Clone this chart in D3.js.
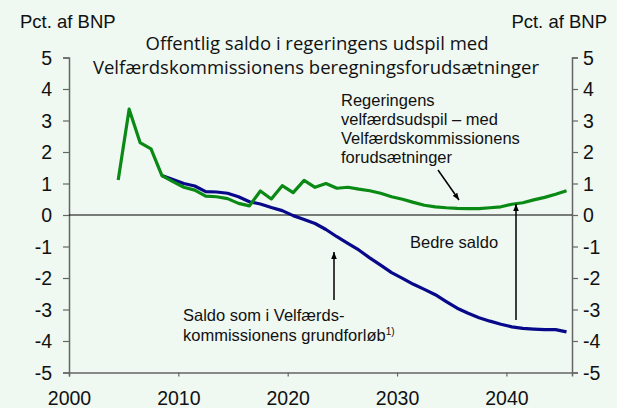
<!DOCTYPE html>
<html>
<head>
<meta charset="utf-8">
<script src="https://cdn.jsdelivr.net/npm/d3@7"></script>
<style>
  body { margin: 0; background: #eff8f1; }
  svg { display: block; }
</style>
</head>
<body>
<div id="vis"></div>
<script>
const [width, height] = [617, 408];
const sans = '"Liberation Sans", Arial, Helvetica, sans-serif';

// Regeringens udspil (green), 2004-2045
const govYears = d3.range(2004, 2046);
const govSaldo = [1.11, 3.36, 2.30, 2.10, 1.25, 1.06, 0.88, 0.79, 0.60, 0.58,
  0.52, 0.37, 0.29, 0.76, 0.51, 0.93, 0.71, 1.10, 0.88, 1.00,
  0.85, 0.88, 0.82, 0.77, 0.69, 0.58, 0.50, 0.40, 0.31, 0.26,
  0.23, 0.21, 0.20, 0.20, 0.23, 0.26, 0.34, 0.39, 0.48, 0.56,
  0.66, 0.77];
// Velfærdskommissionens grundforløb (blue), 2008-2045
const baseYears = d3.range(2008, 2046);
const baseSaldo = [1.25, 1.13, 1.00, 0.92, 0.74, 0.73, 0.69, 0.58, 0.42, 0.35,
  0.24, 0.14, -0.02, -0.14, -0.27, -0.46, -0.69, -0.90, -1.11, -1.36,
  -1.59, -1.83, -2.01, -2.20, -2.36, -2.53, -2.75, -2.96, -3.12, -3.26,
  -3.37, -3.47, -3.55, -3.60, -3.62, -3.64, -3.64, -3.71];
const yTicks = [5, 4, 3, 2, 1, 0, -1, -2, -3, -4, -5];
const xTicks = [2000, 2010, 2020, 2030, 2040];

const x = d3.scaleLinear().domain([2000, 2046]).range([69, 572]);
const y = d3.scaleLinear().domain([-5, 5]).range([372.5, 57.5]);

const svg = d3.select('#vis').append('svg')
  .attr('width', width).attr('height', height);

svg.append('rect').attr('width', width).attr('height', height).attr('fill', '#eff8f1');

// axes
const axisColor = '#666';
const fmt = d => String(d);
const left = svg.append('g').attr('transform', `translate(${x(2000)},0)`)
  .call(d3.axisLeft(y).tickValues(yTicks).tickSize(6).tickPadding(11).tickFormat(fmt));
const right = svg.append('g').attr('transform', `translate(${x(2046)},0)`)
  .call(d3.axisRight(y).tickValues(yTicks).tickSize(6).tickPadding(5).tickFormat(fmt));
const bottom = svg.append('g').attr('transform', `translate(0,${y(-5)})`)
  .call(d3.axisBottom(x).tickValues(xTicks).tickSize(4).tickPadding(15).tickFormat(fmt));
[left, right, bottom].forEach(g => {
  g.select('.domain').attr('stroke', axisColor).attr('stroke-width', 1.5);
  g.selectAll('.tick line').attr('stroke', axisColor).attr('stroke-width', 1.2);
  g.selectAll('.tick text')
    .style('font-family', sans).style('font-size', '19.5px').attr('fill', '#111');
});
left.selectAll('.tick text').attr('dy', '0.35em');
right.selectAll('.tick text').attr('dy', '0.35em');

// zero line
svg.append('line')
  .attr('x1', x(2000)).attr('x2', x(2046))
  .attr('y1', y(0)).attr('y2', y(0))
  .attr('stroke', '#000').attr('stroke-width', 1);

// lines (plotted mid-year)
const line = d3.line().x(d => x(d[0] + 0.5)).y(d => y(d[1]));
svg.append('path')
  .datum(baseYears.map((yr, i) => [yr, baseSaldo[i]]))
  .attr('d', line).attr('fill', 'none')
  .attr('stroke', '#08088a').attr('stroke-width', 3.2).attr('stroke-linejoin', 'round');
svg.append('path')
  .datum(govYears.map((yr, i) => [yr, govSaldo[i]]))
  .attr('d', line).attr('fill', 'none')
  .attr('stroke', '#0a8a14').attr('stroke-width', 3.2).attr('stroke-linejoin', 'round');

const note = (xx, yy, size) => svg.append('text')
  .attr('x', xx).attr('y', yy)
  .style('font-family', sans).style('font-size', size).attr('fill', '#111');

// units
note(20, 28, '18.5px').text('Pct. af BNP');
note(607, 28, '18.5px').attr('text-anchor', 'end').text('Pct. af BNP');

// title
const title = svg.append('text').attr('text-anchor', 'middle')
  .style('font-family', '"Open Sans", Lato, sans-serif').style('font-size', '18.5px').attr('fill', '#111');
title.append('tspan').attr('x', 317).attr('y', 50).text('Offentlig saldo i regeringens udspil med');
title.append('tspan').attr('x', 316).attr('y', 74).text('Velfærdskommissionens beregningsforudsætninger');

// arrow marker
svg.append('defs').append('marker')
  .attr('id', 'arr').attr('viewBox', '0 0 10 10').attr('refX', 10).attr('refY', 5)
  .attr('markerWidth', 7).attr('markerHeight', 7).attr('markerUnits', 'userSpaceOnUse')
  .attr('orient', 'auto')
  .append('path').attr('d', 'M0,1 L10,5 L0,9 Z').attr('fill', '#000');

const arrow = (x1, y1, x2, y2) => svg.append('line')
  .attr('x1', x1).attr('y1', y1).attr('x2', x2).attr('y2', y2)
  .attr('stroke', '#000').attr('stroke-width', 1.5).attr('marker-end', 'url(#arr)');

// green annotation
const g1 = note(341, 105.5, '16.5px');
['Regeringens', 'velfærdsudspil – med', 'Velfærdskommissionens', 'forudsætninger']
  .forEach((t, i) => g1.append('tspan').attr('x', 341).attr('y', 105.5 + i * 19.3).text(t));
arrow(438, 170, 459, 200);

// blue annotation
const b1 = note(183, 320.5, '16.5px');
b1.append('tspan').attr('x', 183).attr('y', 320.5).text('Saldo som i Velfærds-');
b1.append('tspan').attr('x', 183).attr('y', 341).text('kommissionens grundforløb');
b1.append('tspan').attr('dy', -6).style('font-size', '10px').text('1)');
arrow(334, 300, 334, 252);

// bedre saldo
note(410, 247.5, '16.5px').text('Bedre saldo');
arrow(516, 320, 516, 204);
</script>
</body>
</html>
